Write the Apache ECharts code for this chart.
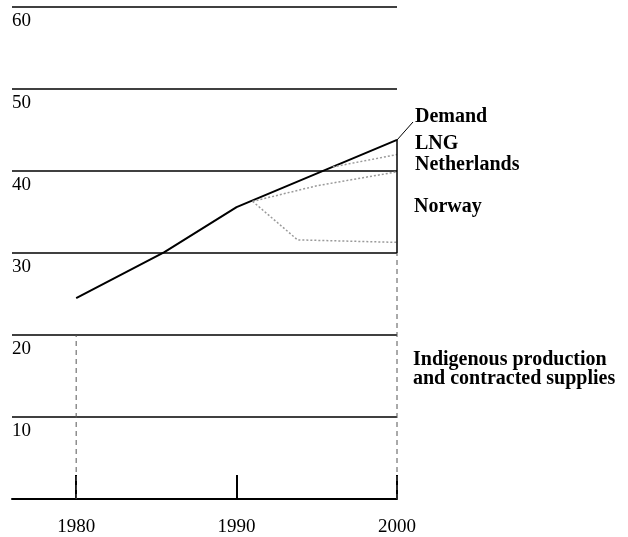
<!DOCTYPE html>
<html>
<head>
<meta charset="utf-8">
<script src="https://cdn.jsdelivr.net/npm/echarts@6/dist/echarts.min.js"></script>
<style>
  html, body { margin: 0; padding: 0; background: #fff; }
  #main { width: 628px; height: 537px; }
</style>
</head>
<body>
<div id="main"></div>
<script>
  // values (billion m3 or so)
  var tickYears = [1980, 1990, 2000];
  var demand = [[1980, 24.5], [1985.5, 30.1], [1990, 35.6], [2000, 43.8]];
  var norwayLow = [[1991, 36.3], [1993.8, 31.6], [2000, 31.3]];
  var norwayTop = [[1991, 36.3], [1995, 38.2], [2000, 39.9]];
  var netherlandsTop = [[1996, 40.5], [2000, 42.0]];
  var edge1980 = [[1980, 0], [1980, 20]];
  var edge2000Low = [[2000, 0], [2000, 30]];
  var edge2000High = [[2000, 30], [2000, 43.8]];

  var serif = "'Liberation Serif', 'Times New Roman', serif";
  var bold = 'bold 20px ' + serif;
  var chart = echarts.init(document.getElementById('main'));

  function dotted(name, data) {
    return {
      name: name, type: 'line', data: data, symbol: 'none', silent: true,
      lineStyle: { color: '#9a9a9a', width: 1.5, type: [2, 2] }
    };
  }

  var option = {
    animation: false,
    grid: { left: 12, right: 231, top: 7, bottom: 38 },
    xAxis: {
      type: 'value', min: 1976, max: 2000,
      axisLine: { show: true, lineStyle: { color: '#000', width: 2 } },
      axisTick: {
        show: true, inside: true, length: 24, customValues: tickYears,
        lineStyle: { color: '#000', width: 2 }
      },
      axisLabel: {
        customValues: tickYears, margin: 19, color: '#000',
        fontSize: 19, fontFamily: serif,
        formatter: function (v) { return String(v); }
      },
      splitLine: { show: false }
    },
    yAxis: {
      type: 'value', min: 0, max: 60, interval: 10,
      axisLine: { show: false },
      axisTick: { show: false },
      axisLabel: {
        inside: true, margin: 0, verticalAlign: 'top', color: '#000',
        fontSize: 19, fontFamily: serif, padding: [5, 0, 0, 0],
        formatter: function (v) { return v === 0 ? '' : v; }
      },
      splitLine: { lineStyle: { color: '#000', width: 1.5 } }
    },
    series: [
      {
        name: 'Demand', type: 'line', data: demand, symbol: 'none', silent: true,
        lineStyle: { color: '#000', width: 2 }
      },
      dotted('Norway low', norwayLow),
      dotted('Norway top', norwayTop),
      dotted('Netherlands top', netherlandsTop),
      {
        type: 'line', data: edge1980, symbol: 'none', silent: true,
        lineStyle: { color: '#555', width: 1, type: [5, 4] }
      },
      {
        type: 'line', data: edge2000Low, symbol: 'none', silent: true,
        lineStyle: { color: '#555', width: 1, type: [5, 4] }
      },
      {
        type: 'line', data: edge2000High, symbol: 'none', silent: true,
        lineStyle: { color: '#000', width: 1.5 }
      }
    ],
    graphic: [
      { type: 'line', shape: { x1: 397, y1: 140, x2: 413, y2: 122 },
        style: { stroke: '#000', lineWidth: 1 } },
      { type: 'text', left: 415, top: 107, style: { text: 'Demand', font: bold, fill: '#000' } },
      { type: 'text', left: 415, top: 134, style: { text: 'LNG', font: bold, fill: '#000' } },
      { type: 'text', left: 415, top: 155, style: { text: 'Netherlands', font: bold, fill: '#000' } },
      { type: 'text', left: 414, top: 197, style: { text: 'Norway', font: bold, fill: '#000' } },
      { type: 'text', left: 413, top: 350, style: { text: 'Indigenous production', font: bold, fill: '#000' } },
      { type: 'text', left: 413, top: 369, style: { text: 'and contracted supplies', font: bold, fill: '#000' } }
    ]
  };
  chart.setOption(option);
</script>
</body>
</html>
